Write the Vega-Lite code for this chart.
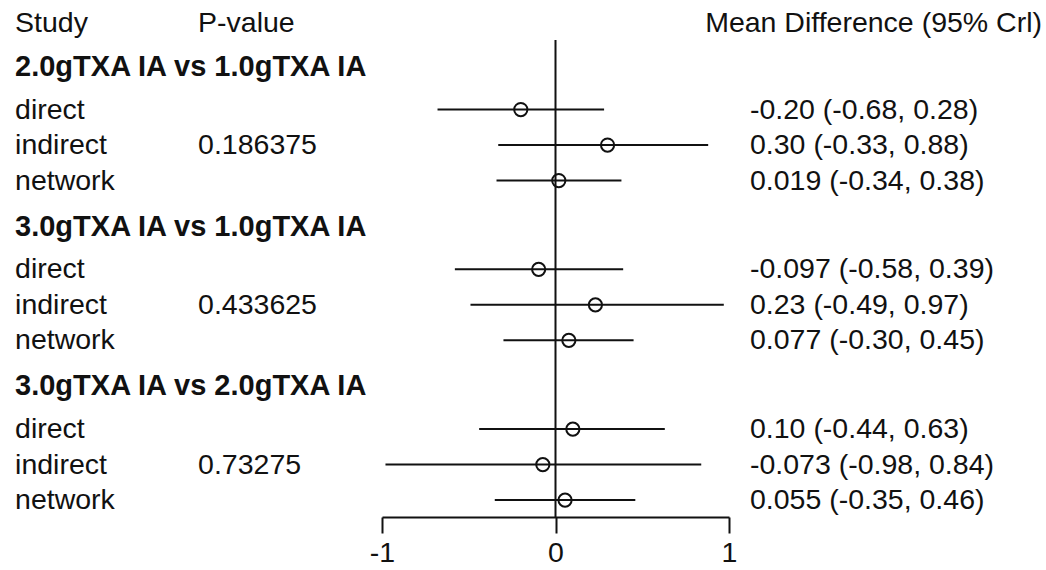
{
  "$schema": "https://vega.github.io/schema/vega-lite/v6.json",
  "autosize": "none",
  "width": 347,
  "height": 517,
  "padding": {"left": 382, "top": 0, "right": 317, "bottom": 53},
  "background": "white",
  "config": {
    "view": {"stroke": null},
    "font": "Liberation Sans",
    "text": {"font": "Liberation Sans", "fontSize": 28.5, "color": "#111111", "baseline": "middle", "align": "left"}
  },
  "datasets": {
    "studies": [
      {"comparison": "2.0gTXA IA vs 1.0gTXA IA", "study": "direct", "row": 1.2, "est": -0.20, "lo": -0.68, "hi": 0.28, "pvalue": "", "ci": "-0.20 (-0.68, 0.28)"},
      {"comparison": "2.0gTXA IA vs 1.0gTXA IA", "study": "indirect", "row": 2.2, "est": 0.30, "lo": -0.33, "hi": 0.88, "pvalue": "0.186375", "ci": "0.30 (-0.33, 0.88)"},
      {"comparison": "2.0gTXA IA vs 1.0gTXA IA", "study": "network", "row": 3.2, "est": 0.019, "lo": -0.34, "hi": 0.38, "pvalue": "", "ci": "0.019 (-0.34, 0.38)"},
      {"comparison": "3.0gTXA IA vs 1.0gTXA IA", "study": "direct", "row": 5.7, "est": -0.097, "lo": -0.58, "hi": 0.39, "pvalue": "", "ci": "-0.097 (-0.58, 0.39)"},
      {"comparison": "3.0gTXA IA vs 1.0gTXA IA", "study": "indirect", "row": 6.7, "est": 0.23, "lo": -0.49, "hi": 0.97, "pvalue": "0.433625", "ci": "0.23 (-0.49, 0.97)"},
      {"comparison": "3.0gTXA IA vs 1.0gTXA IA", "study": "network", "row": 7.7, "est": 0.077, "lo": -0.30, "hi": 0.45, "pvalue": "", "ci": "0.077 (-0.30, 0.45)"},
      {"comparison": "3.0gTXA IA vs 2.0gTXA IA", "study": "direct", "row": 10.2, "est": 0.10, "lo": -0.44, "hi": 0.63, "pvalue": "", "ci": "0.10 (-0.44, 0.63)"},
      {"comparison": "3.0gTXA IA vs 2.0gTXA IA", "study": "indirect", "row": 11.2, "est": -0.073, "lo": -0.98, "hi": 0.84, "pvalue": "0.73275", "ci": "-0.073 (-0.98, 0.84)"},
      {"comparison": "3.0gTXA IA vs 2.0gTXA IA", "study": "network", "row": 12.2, "est": 0.055, "lo": -0.35, "hi": 0.46, "pvalue": "", "ci": "0.055 (-0.35, 0.46)"}
    ],
    "headers": [
      {"comparison": "2.0gTXA IA vs 1.0gTXA IA", "row": 0},
      {"comparison": "3.0gTXA IA vs 1.0gTXA IA", "row": 4.5},
      {"comparison": "3.0gTXA IA vs 2.0gTXA IA", "row": 9.0}
    ],
    "columns": [
      {"label": "Study", "col": -3.115, "align": "left"},
      {"label": "P-value", "col": -2.06, "align": "left"},
      {"label": "Mean Difference (95% Crl)", "col": 2.804, "align": "right"}
    ]
  },
  "encoding": {
    "x": {
      "type": "quantitative",
      "scale": {"domain": [-1, 1], "nice": false, "zero": false},
      "axis": {
        "values": [-1, 0, 1],
        "title": null,
        "grid": false,
        "domainColor": "#111111",
        "domainWidth": 2,
        "tickColor": "#111111",
        "tickWidth": 2,
        "tickSize": 16,
        "labelFont": "Liberation Sans",
        "labelFontSize": 28.5,
        "labelColor": "#111111",
        "labelPadding": 5,
        "labelFlush": false,
        "labelOverlap": false,
        "labelBound": false,
        "labelExpr": "'' + datum.value"
      }
    },
    "y": {
      "type": "quantitative",
      "scale": {"domain": [-1.887, 12.676], "reverse": true, "nice": false, "zero": false},
      "axis": null
    }
  },
  "layer": [
    {
      "data": {"values": [{"ref": 0, "top": -0.76, "bottom": 12.676}]},
      "mark": {"type": "rule", "color": "#111111", "strokeWidth": 2},
      "encoding": {
        "x": {"field": "ref", "type": "quantitative"},
        "y": {"field": "top", "type": "quantitative"},
        "y2": {"field": "bottom"}
      }
    },
    {
      "data": {"name": "studies"},
      "mark": {"type": "rule", "color": "#111111", "strokeWidth": 2},
      "encoding": {
        "x": {"field": "lo", "type": "quantitative"},
        "x2": {"field": "hi"},
        "y": {"field": "row", "type": "quantitative"}
      }
    },
    {
      "data": {"name": "studies"},
      "mark": {"type": "point", "shape": "circle", "filled": false, "stroke": "#111111", "strokeWidth": 2, "size": 175, "opacity": 1},
      "encoding": {
        "x": {"field": "est", "type": "quantitative"},
        "y": {"field": "row", "type": "quantitative"}
      }
    },
    {
      "data": {"name": "studies"},
      "mark": {"type": "text"},
      "encoding": {
        "x": {"datum": -3.115, "type": "quantitative"},
        "y": {"field": "row", "type": "quantitative"},
        "text": {"field": "study"}
      }
    },
    {
      "data": {"name": "studies"},
      "mark": {"type": "text"},
      "encoding": {
        "x": {"datum": -2.06, "type": "quantitative"},
        "y": {"field": "row", "type": "quantitative"},
        "text": {"field": "pvalue"}
      }
    },
    {
      "data": {"name": "studies"},
      "mark": {"type": "text"},
      "encoding": {
        "x": {"datum": 1.121, "type": "quantitative"},
        "y": {"field": "row", "type": "quantitative"},
        "text": {"field": "ci"}
      }
    },
    {
      "data": {"name": "headers"},
      "mark": {"type": "text", "fontWeight": "bold", "fontSize": 29},
      "encoding": {
        "x": {"datum": -3.115, "type": "quantitative"},
        "y": {"field": "row", "type": "quantitative"},
        "text": {"field": "comparison"}
      }
    },
    {
      "data": {"name": "columns"},
      "transform": [{"filter": "datum.align === 'left'"}],
      "mark": {"type": "text", "align": "left"},
      "encoding": {
        "x": {"field": "col", "type": "quantitative"},
        "y": {"datum": -1.24, "type": "quantitative"},
        "text": {"field": "label"}
      }
    },
    {
      "data": {"name": "columns"},
      "transform": [{"filter": "datum.align === 'right'"}],
      "mark": {"type": "text", "align": "right"},
      "encoding": {
        "x": {"field": "col", "type": "quantitative"},
        "y": {"datum": -1.24, "type": "quantitative"},
        "text": {"field": "label"}
      }
    }
  ]
}
